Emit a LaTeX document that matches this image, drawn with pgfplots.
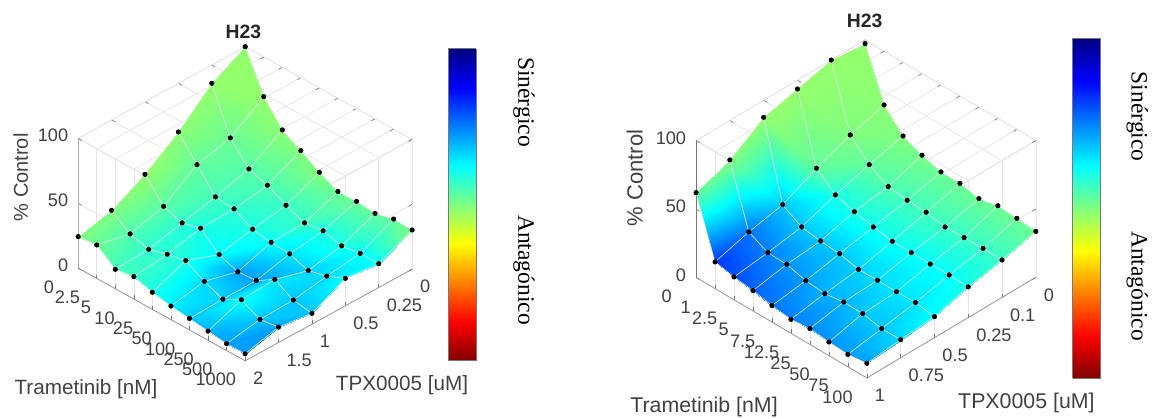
\documentclass[border=0pt]{standalone}
\usepackage{fontspec}
\setmainfont{Liberation Sans}
\newfontfamily\serifx{Liberation Serif}
\usepackage{pgfplots}
\usepackage{pgfplotstable}
\pgfplotsset{compat=1.18}
\pgfplotsset{colormap={rjet}{rgb255=(128,0,0) rgb255=(255,0,0) rgb255=(255,128,0) rgb255=(255,255,0) rgb255=(128,255,128) rgb255=(0,255,255) rgb255=(0,128,255) rgb255=(0,0,255) rgb255=(0,0,128)}}
\definecolor{axc}{RGB}{120,120,120}
\definecolor{txc}{RGB}{65,65,65}
\definecolor{grc}{RGB}{228,228,228}
\pgfplotstableread{
x y z c
0 0 100 .48
1 0 69.5 .48
2 0 51.8 .49
3 0 43.8 .50
4 0 35 .50
5 0 28.2 .52
6 0 28.5 .52
7 0 27.2 .53
8 0 30.8 .53
9 0 30.3 .50
0 1 85.9 .48
1 1 51.8 .52
2 1 35.9 .54
3 1 31.3 .55
4 1 23.8 .57
5 1 18.2 .57
6 1 20 .60
7 1 16.4 .60
8 1 18.5 .62
9 1 18.5 .62
0 2 62.6 .49
1 2 45.4 .53
2 2 28.5 .56
3 2 27.2 .58
4 2 19.5 .60
5 2 17.3 .62
6 2 16.4 .65
7 2 11.5 .67
8 2 15.1 .66
9 2 21.3 .62
0 3 44.1 .48
1 3 27.4 .54
2 3 22.6 .58
3 3 26.4 .60
4 3 14.1 .63
5 3 8.8 .72
6 3 10 .72
7 3 18.7 .65
8 3 10.8 .68
9 3 8.5 .68
0 4 30.5 .50
1 4 20.3 .55
2 4 16.4 .58
3 4 20.5 .58
4 4 23.6 .60
5 4 15.5 .66
6 4 9.7 .67
7 4 17.2 .62
8 4 10 .68
9 4 12 .72
0 5 24.4 .50
1 5 25.9 .52
2 5 15.1 .56
3 5 17.4 .57
4 5 13.3 .60
5 5 10.6 .64
6 5 9 .68
7 5 7.2 .70
8 5 5.4 .72
9 5 5.6 .72
}\tabL
\pgfplotstableread{
x y z c
0 0 97.3 .48
1 0 60.7 .49
2 0 46.2 .50
3 0 40.3 .51
4 0 36.3 .52
5 0 36.1 .52
6 0 33.1 .52
7 0 36.1 .52
8 0 35 .52
9 0 33.7 .52
0 1 100 .48
1 1 53.5 .50
2 1 40 .53
3 1 32.1 .55
4 1 30.3 .56
5 1 29.7 .56
6 1 27.1 .57
7 1 27.5 .57
8 1 27.8 .57
9 1 27.5 .57
0 2 93.6 .48
1 2 43.9 .53
2 2 32.6 .60
3 2 28.5 .60
4 2 25.5 .61
5 2 23.2 .61
6 2 23.1 .62
7 2 22.9 .62
8 2 23.1 .62
9 2 22.5 .60
0 3 87.6 .48
1 3 32 .68
2 3 23.9 .68
3 3 21.8 .68
4 3 20.7 .68
5 3 17.4 .67
6 3 17.6 .66
7 3 17.4 .65
8 3 17.6 .65
9 3 15.5 .62
0 4 71.2 .50
1 4 26.8 .76
2 4 19.9 .75
3 4 19.5 .73
4 4 15.7 .72
5 4 14.4 .70
6 4 16.4 .70
7 4 16.1 .68
8 4 13.3 .68
9 4 13.4 .66
0 5 62 .53
1 5 19.6 .82
2 5 16.8 .80
3 5 15 .78
4 5 12.2 .76
5 5 10.3 .75
6 5 11.7 .74
7 5 10.1 .73
8 5 9.2 .72
9 5 10.8 .72
}\tabR
\pgfplotstableread{
x y c
0 0 0
1 0 0
0 .125 .125
1 .125 .125
0 .25 .25
1 .25 .25
0 .375 .375
1 .375 .375
0 .5 .5
1 .5 .5
0 .625 .625
1 .625 .625
0 .75 .75
1 .75 .75
0 .875 .875
1 .875 .875
0 1 1
1 1 1
}\tabC
\pgfplotsset{
 surfax/.style={
  anchor=origin, disabledatascaling,
  xmin=0,xmax=9,ymin=0,ymax=5,zmin=0,zmax=100,
  colormap name=rjet, point meta min=0, point meta max=1,
  xtick={0,...,9}, ytick={0,...,5}, ztick={0,50,100},
  zticklabels={0,50,100},
  tickpos=left,
  grid=major, major grid style={grc,line width=.5pt},
  axis line style={grc,line width=.5pt},
  tick style={axc,line width=.5pt}, major tick length=3pt,
  tick label style={font=\fontsize{13.6}{14}\selectfont,text=txc},
  x tick label style={anchor=center,xshift=-22pt,yshift=-14pt},
  y tick label style={anchor=west,xshift=2.5pt,yshift=-13pt},
  z tick label style={anchor=east,xshift=-4pt,yshift=2pt},
 },
 srf/.style={surf,shader=faceted interp,faceted color=white!85!gray,line width=.4pt,mesh/rows=6,mesh/cols=10,mesh/ordering=x varies},
 mk/.style={only marks,mark=*,mark size=1.7pt,black,mark options={draw=black,fill=black}},
 fl/.style={axc,line width=.7pt,no marks,forget plot},
 cb/.style={anchor=south west,width=21pt,height=#1,scale only axis,xmin=0,xmax=1,ymin=0,ymax=1,xtick=\empty,ytick=\empty,axis line style={axc,line width=.5pt},colormap name=rjet,point meta min=0,point meta max=1,view={0}{90}},
}
\begin{document}
\begin{tikzpicture}[x=1pt,y=1pt]
\path[use as bounding box] (0,0) rectangle (866.25,313.5);
% left
\begin{axis}[surfax,at={(183.9pt,181.0pt)},
  x={(13.91pt,-7.725pt)},y={(-25.05pt,-13.75pt)},z={(0pt,0.975pt)},
  xticklabels={0,2.5,5,10,25,50,100,250,500,1000},
  yticklabels={0,0.25,0.5,1,1.5,2}]
\addplot3[fl] coordinates {(0,5,0) (9,5,0) (9,0,0)};
\addplot3[fl,draw=axc!60] coordinates {(0,5,0) (0,5,100)};
\addplot3[srf] table[x=x,y=y,z=z,point meta=\thisrow{c}] {\tabL};
\addplot3[mk] table[x=x,y=y,z=z] {\tabL};
\end{axis}
% right
\begin{axis}[surfax,at={(648.8pt,180.8pt)},
  x={(14.23pt,-8.38pt)},y={(-25.35pt,-15.1pt)},z={(0pt,1.0275pt)},
  xticklabels={0,1,2.5,5,7.5,12.5,25,50,75,100},
  yticklabels={0,0.1,0.25,0.5,0.75,1}]
\addplot3[fl] coordinates {(0,5,0) (9,5,0) (9,0,0)};
\addplot3[fl] coordinates {(0,5,0) (0,5,100)};
\addplot3[srf] table[x=x,y=y,z=z,point meta=\thisrow{c}] {\tabR};
\addplot3[mk] table[x=x,y=y,z=z] {\tabR};
\end{axis}
% colorbars
\begin{axis}[cb=234pt,at={(336pt,43pt)}]
\addplot3[surf,shader=interp,mesh/rows=9,mesh/cols=2] table[x=x,y=y,z expr=0,point meta=\thisrow{c}] {\tabC};
\end{axis}
\begin{axis}[cb=255pt,at={(804.5pt,30pt)}]
\addplot3[surf,shader=interp,mesh/rows=9,mesh/cols=2] table[x=x,y=y,z expr=0,point meta=\thisrow{c}] {\tabC};
\end{axis}
% texts
\begin{scope}[every node/.style={inner sep=0pt,text=txc}]
\node[font=\fontsize{14.5}{15}\selectfont\bfseries,text=black!85] at (182.5,289.5) {H23};
\node[font=\fontsize{14.5}{15}\selectfont\bfseries,text=black!85] at (648.5,297.5) {H23};
\node[font=\fontsize{15.5}{16}\selectfont] at (64.5,21.7) {Trametinib [nM]};
\node[font=\fontsize{15.5}{16}\selectfont] at (301.5,24.7) {TPX0005 [uM]};
\node[font=\fontsize{15}{16}\selectfont,rotate=90] at (15.5,180.5) {\% Control};
\node[font=\fontsize{16}{16}\selectfont] at (528,8.25) {Trametinib [nM]};
\node[font=\fontsize{16}{16}\selectfont] at (769.8,11.25) {TPX0005 [uM]};
\node[font=\fontsize{16.5}{16}\selectfont,rotate=90] at (476,180) {\% Control};
\node[font=\serifx\fontsize{17.6}{18}\selectfont,rotate=-90,text=black] at (393,237) {Sinérgico};
\node[font=\serifx\fontsize{17.6}{18}\selectfont,rotate=-90,text=black] at (393,111) {Antagónico};
\node[font=\serifx\fontsize{17.6}{18}\selectfont,rotate=-90,text=black] at (853,226) {Sinérgico};
\node[font=\serifx\fontsize{17.6}{18}\selectfont,rotate=-90,text=black] at (853,99) {Antagónico};
\end{scope}
\end{tikzpicture}
\end{document}
